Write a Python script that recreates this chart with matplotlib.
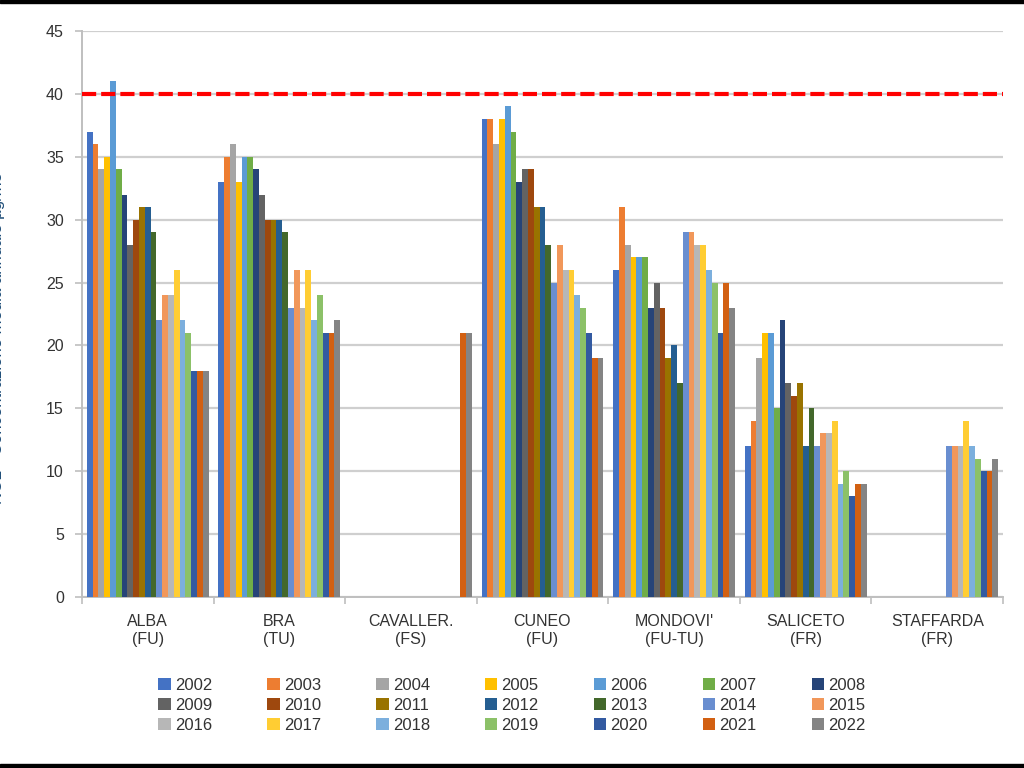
import matplotlib
matplotlib.use("Agg")
from matplotlib import pyplot as plt
from matplotlib.patches import Rectangle
import numpy as np

plt.rcParams['font.family'] = ['Liberation Sans', 'DejaVu Sans']

stations = ["ALBA\n(FU)", "BRA\n(TU)", "CAVALLER.\n(FS)", "CUNEO\n(FU)",
            "MONDOVI'\n(FU-TU)", "SALICETO\n(FR)", "STAFFARDA\n(FR)"]
years = list(range(2002, 2023))

# media annuale NO2 per stazione, un valore per anno (None = nessun dato)
alba = [37, 36, 34, 35, 41, 34, 32, 28, 30, 31, 31, 29, 22, 24, 24, 26, 22, 21, 18, 18, 18]
bra = [33, 35, 36, 33, 35, 35, 34, 32, 30, 30, 30, 29, 23, 26, 23, 26, 22, 24, 21, 21, 22]
cavaller = [None] * 19 + [21, 21]
cuneo = [38, 38, 36, 38, 39, 37, 33, 34, 34, 31, 31, 28, 25, 28, 26, 26, 24, 23, 21, 19, 19]
mondovi = [26, 31, 28, 27, 27, 27, 23, 25, 23, 19, 20, 17, 29, 29, 28, 28, 26, 25, 21, 25, 23]
saliceto = [12, 14, 19, 21, 21, 15, 22, 17, 16, 17, 12, 15, 12, 13, 13, 14, 9, 10, 8, 9, 9]
staffarda = [None] * 12 + [12, 12, 12, 14, 12, 11, 10, 10, 11]

limit_value = 40

colors = ["#4472C4", "#ED7D31", "#A5A5A5", "#FFC000", "#5B9BD5", "#70AD47",
          "#264478", "#636363", "#9E480E", "#997300", "#255E91", "#43682B",
          "#698ED0", "#F1975A", "#B7B7B7", "#FFCD33", "#7CAFDD", "#8CC168",
          "#335AA1", "#D26012", "#848484"]

data = [alba, bra, cavaller, cuneo, mondovi, saliceto, staffarda]

fig = plt.figure(figsize=(10.24, 7.68), dpi=100)
ax = fig.add_axes([0.080, 0.2227, 0.8995, 0.7369])

x = np.arange(len(stations))
w = 0.0441
handles = []
for j, year in enumerate(years):
    vals = [np.nan if d[j] is None else d[j] for d in data]
    b = ax.bar(x + (j - 10) * w, vals, width=w, color=colors[j],
               linewidth=0, label=str(year), zorder=3)
    handles.append(b)

ax.axhline(limit_value, color="#FF0000", linestyle=(0, (3.4, 1.2)), linewidth=3, zorder=4)

ax.set_xlim(-0.5, len(stations) - 0.5)
ax.set_ylim(0, 45)
ax.set_yticks(np.arange(0, 46, 5))
ax.yaxis.grid(True, color="#CFCFCF", linewidth=1.6, zorder=0)
ax.set_axisbelow(True)

ax.set_xticks(x)
ax.set_xticklabels(stations, fontsize=11.5, color="#333333", linespacing=1.25)
ax.set_xticks(np.arange(-0.5, len(stations), 1), minor=True)
ax.tick_params(axis="x", which="major", length=0, pad=12)
ax.tick_params(axis="x", which="minor", length=5, color="#BFBFBF", width=1.2)
ax.tick_params(axis="y", length=5, color="#BFBFBF", width=1.2, labelsize=11.5,
               labelcolor="#333333", pad=8)

for s in ["top", "right"]:
    ax.spines[s].set_visible(False)
for s in ["left", "bottom"]:
    ax.spines[s].set_color("#BFBFBF")
    ax.spines[s].set_linewidth(1.4)

# etichetta asse y tagliata al bordo come nell'immagine originale
fig.text(0.0045, 0.56, "NO2 - Concentrazione media annuale \u00b5g/m3", rotation=90,
         ha="right", va="center", fontsize=12, color="#1F4E79")

# legenda in righe da 7 (matplotlib riempie per colonne)
ncol = 7
nrow = 3
order = [r * ncol + c for c in range(ncol) for r in range(nrow)]
fig.legend([handles[i] for i in order], [str(years[i]) for i in order],
           loc="center", bbox_to_anchor=(0.500, 0.082), ncol=ncol, frameon=False,
           fontsize=12, handlelength=0.75, handleheight=0.75, handletextpad=0.25,
           columnspacing=3.3, labelspacing=0.3, labelcolor="#333333")

# cornice nera sopra e sotto
fig.patches.append(Rectangle((0, 0.9965), 1, 0.0035, transform=fig.transFigure,
                             color="black", zorder=10))
fig.patches.append(Rectangle((0, 0), 1, 0.005, transform=fig.transFigure,
                             color="black", zorder=10))

fig.savefig("out.png", dpi=100)
